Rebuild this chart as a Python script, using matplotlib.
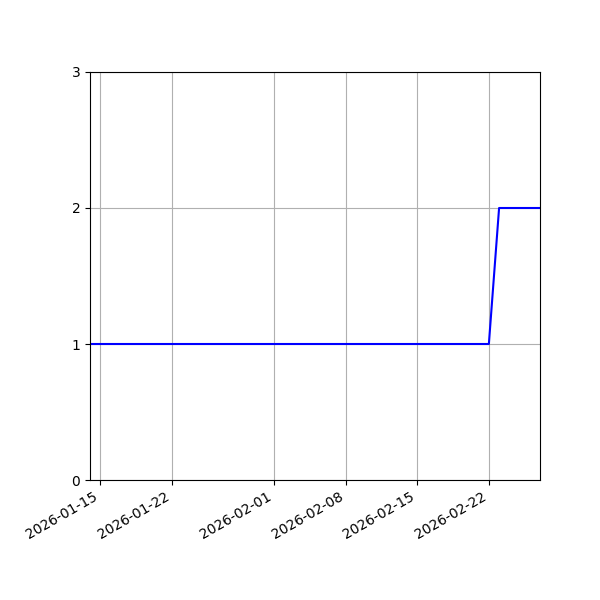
import matplotlib
matplotlib.use("Agg")
import matplotlib.pyplot as plt
import matplotlib.dates as mdates
import numpy as np
from datetime import datetime

# Daily counts (only the points where the value changes are needed for the line)
dates = ["2026-01-14", "2026-01-22", "2026-02-01", "2026-02-08",
         "2026-02-15", "2026-02-22", "2026-02-23", "2026-02-27"]
counts = [1, 1, 1, 1, 1, 1, 2, 2]
y_ticks = [0, 1, 2, 3]

x = [datetime.strptime(d, "%Y-%m-%d") for d in dates]

fig = plt.figure(figsize=(6, 6), dpi=100)
ax = fig.add_axes([0.15, 0.2, 0.75, 0.68])
ax.plot(x, counts, color="blue")
ax.set_xlim(x[0], x[-1])
ax.set_ylim(0, 3)
ax.set_yticks(y_ticks)
ax.xaxis.set_major_locator(mdates.DayLocator(bymonthday=[1, 8, 15, 22]))
ax.xaxis.set_major_formatter(mdates.DateFormatter("%Y-%m-%d"))
ax.grid(True)
for lbl in ax.get_xticklabels():
    lbl.set_rotation(30)
    lbl.set_ha("right")

fig.savefig("out.png", dpi=100)
